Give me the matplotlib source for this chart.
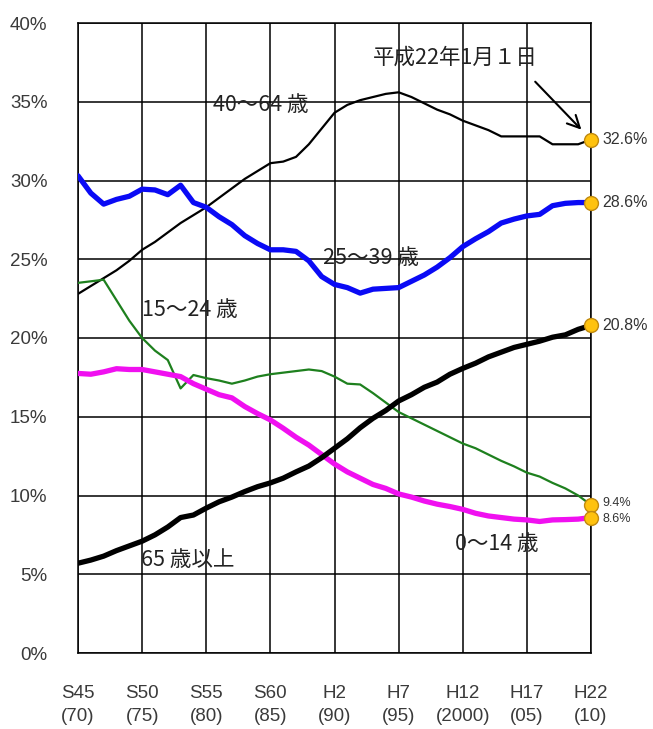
import matplotlib
matplotlib.use("Agg")
import matplotlib.pyplot as plt

plt.rcParams['font.family'] = ['Liberation Sans', 'Noto Sans CJK JP', 'DejaVu Sans']

years = list(range(1970, 2011))

age_40_64 = [22.8, 23.3, 23.8, 24.3, 24.9, 25.6, 26.1, 26.7, 27.3, 27.8,
             28.3, 28.9, 29.5, 30.1, 30.6, 31.1, 31.2, 31.5, 32.3, 33.3,
             34.3, 34.8, 35.1, 35.3, 35.5, 35.6, 35.3, 34.9, 34.5, 34.2,
             33.8, 33.5, 33.2, 32.8, 32.8, 32.8, 32.8, 32.3, 32.3, 32.3,
             32.6]
age_25_39 = [30.3, 29.2, 28.5, 28.8, 29.0, 29.45, 29.4, 29.1, 29.7, 28.6,
             28.3, 27.7, 27.2, 26.5, 26.0, 25.6, 25.6, 25.5, 24.9, 23.9,
             23.4, 23.2, 22.85, 23.1, 23.15, 23.2, 23.6, 24.0, 24.5, 25.1,
             25.8, 26.3, 26.75, 27.3, 27.55, 27.75, 27.85, 28.4, 28.55, 28.6,
             28.6]
age_15_24 = [23.5, 23.6, 23.7, 22.4, 21.1, 20.0, 19.2, 18.6, 16.8, 17.65,
             17.45, 17.3, 17.1, 17.3, 17.55, 17.7, 17.8, 17.9, 18.0, 17.9,
             17.55, 17.1, 17.05, 16.5, 15.9, 15.3, 14.9, 14.5, 14.1, 13.7,
             13.3, 13.0, 12.6, 12.2, 11.85, 11.45, 11.2, 10.8, 10.45, 10.0,
             9.4]
age_0_14 = [17.75, 17.7, 17.85, 18.05, 18.0, 18.0, 17.85, 17.7, 17.55, 17.1,
            16.75, 16.4, 16.2, 15.65, 15.2, 14.8, 14.27, 13.7, 13.2, 12.6,
            12.0, 11.5, 11.1, 10.7, 10.45, 10.1, 9.9, 9.65, 9.45, 9.3,
            9.12, 8.87, 8.7, 8.6, 8.5, 8.45, 8.35, 8.45, 8.47, 8.5,
            8.6]
age_65_over = [5.7, 5.9, 6.15, 6.5, 6.8, 7.1, 7.5, 8.0, 8.6, 8.76,
               9.2, 9.6, 9.9, 10.25, 10.56, 10.8, 11.1, 11.5, 11.87, 12.4,
               13.0, 13.6, 14.3, 14.9, 15.4, 16.0, 16.4, 16.87, 17.2, 17.7,
               18.07, 18.4, 18.8, 19.1, 19.4, 19.6, 19.8, 20.05, 20.2, 20.55,
               20.8]

end_labels = ["32.6%", "28.6%", "20.8%", "9.4%", "8.6%"]
tick_years = [1970, 1975, 1980, 1985, 1990, 1995, 2000, 2005, 2010]
tick_labels = ["S45\n(70)", "S50\n(75)", "S55\n(80)", "S60\n(85)", "H2\n(90)",
               "H7\n(95)", "H12\n(2000)", "H17\n(05)", "H22\n(10)"]
yticks = [0, 5, 10, 15, 20, 25, 30, 35, 40]

fig = plt.figure(figsize=(6.53, 7.29), dpi=100)
ax = fig.add_axes([78/653, 76/729, 513/653, 630/729])

ax.set_xlim(1970, 2010)
ax.set_ylim(0, 40)
ax.set_xticks(tick_years)
ax.set_xticklabels(tick_labels, fontsize=13.5, color='#3a3a3a', linespacing=1.45)
ax.set_yticks(yticks)
ax.set_yticklabels([f"{v}%" for v in yticks], fontsize=13.5, color='#3a3a3a')
ax.tick_params(axis='both', length=0)
ax.tick_params(axis='y', pad=22)
ax.tick_params(axis='x', pad=23)
ax.grid(True, color='black', linewidth=1.1)
ax.set_axisbelow(True)
for s in ax.spines.values():
    s.set_color('black')
    s.set_linewidth(1.1)

kw = dict(solid_joinstyle='round', solid_capstyle='round')
ax.plot(years, age_40_64, color='black', linewidth=1.6, zorder=3, **kw)
ax.plot(years, age_15_24, color='#1E801E', linewidth=1.6, zorder=3, **kw)
ax.plot(years, age_0_14, color='#F010F0', linewidth=3.8, zorder=4, **kw)
ax.plot(years, age_25_39, color='#0A0AF5', linewidth=3.8, zorder=4, **kw)
ax.plot(years, age_65_over, color='black', linewidth=3.8, zorder=5, **kw)

series_end = [age_40_64[-1], age_25_39[-1], age_65_over[-1], age_15_24[-1], age_0_14[-1]]
ax.plot([years[-1]] * len(series_end), series_end, linestyle='none', marker='o',
        markersize=10, markerfacecolor='#FFC20E', markeredgecolor='#C08A10',
        markeredgewidth=1.0, zorder=6, clip_on=False)

label_offsets = [0, 0, 0, 0.12, -0.12]
for v, lab, off in zip(series_end, end_labels, label_offsets):
    fs = 11.5 if off == 0 else 9
    ax.text(2010.9, v + off, lab, fontsize=fs, color='#333333', ha='left', va='center',
            clip_on=False)

jp = dict(fontsize=15.5, color='#222222', ha='left', va='center',
          family=['Noto Sans CJK JP', 'DejaVu Sans'], zorder=7)
ax.text(1980.5, 34.8, "40～64 歳", **jp)
ax.text(1989.1, 25.1, "25～39 歳", **jp)
ax.text(1975.0, 21.8, "15～24 歳", **jp)
ax.text(1974.9, 5.9, "65 歳以上", **jp)
ax.text(1999.4, 6.9, "0～14 歳", **jp)
ax.text(1993.0, 37.8, "平成22年1月１日", **jp)

ax.annotate("", xy=(2009.4, 33.1), xytext=(2005.5, 36.4),
            arrowprops=dict(arrowstyle='->', color='black', lw=1.5,
                            mutation_scale=22), zorder=7)

fig.savefig("out.png", dpi=100)
